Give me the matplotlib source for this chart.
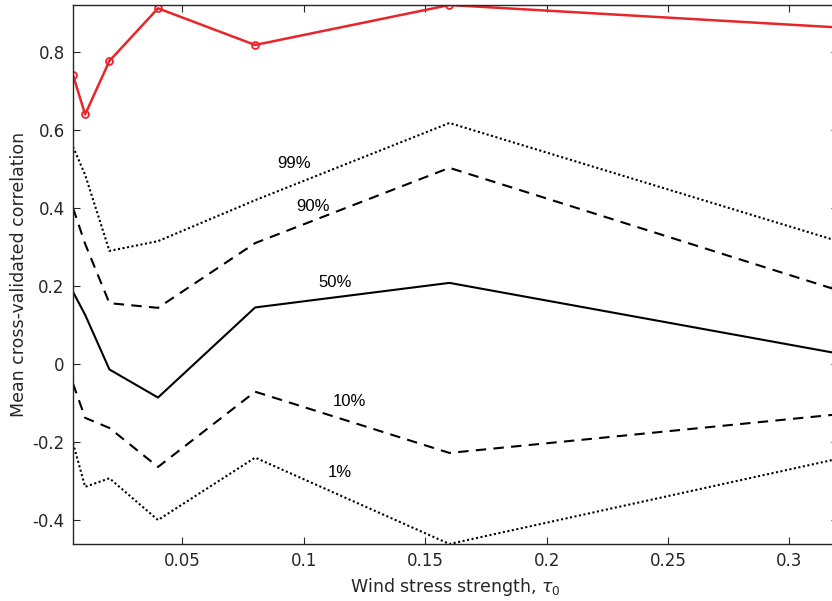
import matplotlib
matplotlib.use("Agg")
import matplotlib.pyplot as plt

tau = [0.005, 0.01, 0.02, 0.04, 0.08, 0.16, 0.32]
model_corr = [0.741, 0.640, 0.777, 0.912, 0.818, 0.9205, 0.863]
p99 = [0.557, 0.485, 0.290, 0.315, 0.420, 0.618, 0.315]
p90 = [0.400, 0.308, 0.156, 0.144, 0.310, 0.503, 0.189]
p50 = [0.185, 0.126, -0.014, -0.086, 0.145, 0.208, 0.027]
p10 = [-0.050, -0.138, -0.164, -0.264, -0.071, -0.228, -0.129]
p01 = [-0.203, -0.315, -0.293, -0.400, -0.240, -0.4615, -0.243]

labels = ["99%", "90%", "50%", "10%", "1%"]
label_x = [0.0961, 0.104, 0.113, 0.119, 0.1147]
label_y = [0.515, 0.403, 0.209, -0.097, -0.279]

W, H = 832, 601
fig = plt.figure(figsize=(W / 100, H / 100), dpi=100)
ax = fig.add_axes([73 / W, (H - 544) / H, (838 - 73) / W, (544 - 5) / H])

dark = "#262626"
ax.plot(tau, p99, color="k", lw=1.5, ls=(0, (1, 1.2)))
ax.plot(tau, p90, color="k", lw=1.5, ls=(0, (5, 3.5)))
ax.plot(tau, p50, color="k", lw=1.5, ls="-")
ax.plot(tau, p10, color="k", lw=1.5, ls=(0, (5, 3.5)))
ax.plot(tau, p01, color="k", lw=1.5, ls=(0, (1, 1.2)))
ax.plot(tau, model_corr, color="#e8262a", lw=1.8, marker="o", ms=5,
        mfc="none", mec="#e8262a", mew=1.3)

for t, x, y in zip(labels, label_x, label_y):
    ax.text(x, y, t, ha="center", va="center", fontsize=12,
            family=["Liberation Sans", "DejaVu Sans"], color="k")

ax.set_xlim(min(tau), max(tau))
ax.set_ylim(min(p01), max(model_corr))
ax.set_xticks([0.05, 0.1, 0.15, 0.2, 0.25, 0.3])
ax.set_xticklabels(["0.05", "0.1", "0.15", "0.2", "0.25", "0.3"])
ax.set_yticks([-0.4, -0.2, 0, 0.2, 0.4, 0.6, 0.8])
ax.set_yticklabels(["-0.4", "-0.2", "0", "0.2", "0.4", "0.6", "0.8"])
ax.tick_params(direction="in", length=5, width=0.8, colors=dark,
               labelsize=12, top=True, right=True, pad=6)
for s in ax.spines.values():
    s.set_color(dark)
    s.set_linewidth(1.0)

ax.set_xlabel(r"Wind stress strength, $\tau_0$", fontsize=12.5, color=dark, labelpad=4)
ax.set_ylabel("Mean cross-validated correlation", fontsize=12.5, color=dark, labelpad=3)

fig.savefig("out.png", dpi=100)
